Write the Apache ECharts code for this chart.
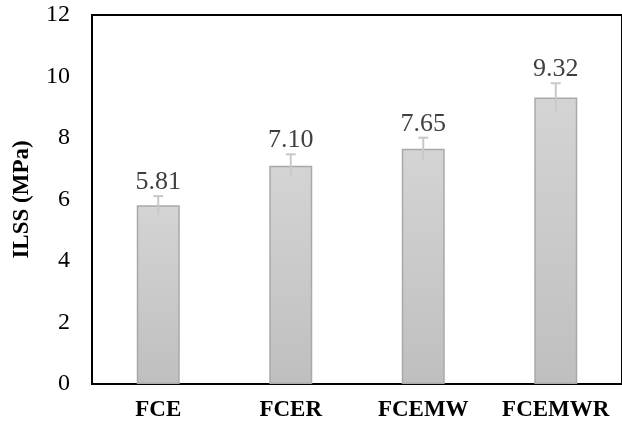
<!DOCTYPE html>
<html>
<head>
<meta charset="utf-8">
<script src="https://cdn.jsdelivr.net/npm/echarts@6/dist/echarts.min.js"></script>
<style>
  html, body { margin: 0; padding: 0; background: #fff; }
  #chart { width: 622px; height: 425px; }
</style>
</head>
<body>
<div id="chart"></div>
<script>
// data
const categories = ['FCE', 'FCER', 'FCEMW', 'FCEMWR'];
const ilss = [5.81, 7.10, 7.65, 9.32];
const ilssErr = [0.30, 0.37, 0.36, 0.46];
const yTicks = [0, 2, 4, 6, 8, 10, 12];

const chart = echarts.init(document.getElementById('chart'));

const serif = '"Liberation Serif", "Times New Roman", serif';

// error bar + value label drawn together
const errorData = ilss.map((v, i) => [i, v, ilssErr[i]]);

const renderError = (params, api) => {
    const x = api.value(0);
    const v = api.value(1);
    const e = api.value(2);
    const top = api.coord([x, v + e]);
    const bot = api.coord([x, v - e]);
    const half = 5;
    return {
        type: 'group',
        children: [
            {
                type: 'line',
                shape: { x1: top[0], y1: top[1], x2: bot[0], y2: bot[1] },
                style: { stroke: '#c8c8c8', lineWidth: 2 }
            },
            {
                type: 'line',
                shape: { x1: top[0] - half, y1: top[1], x2: top[0] + half, y2: top[1] },
                style: { stroke: '#c8c8c8', lineWidth: 2 }
            },
            {
                type: 'text',
                x: top[0],
                y: top[1] - 1,
                style: {
                    text: v.toFixed(2),
                    fill: '#404040',
                    font: '26px ' + serif,
                    align: 'center',
                    verticalAlign: 'bottom'
                }
            }
        ]
    };
};

const option = {
    backgroundColor: '#fff',
    animation: false,
    grid: {
        left: 92,
        right: -8,
        top: 15,
        bottom: 41,
        show: true,
        borderColor: '#000',
        borderWidth: 2,
        containLabel: false
    },
    xAxis: {
        type: 'category',
        data: categories,
        axisLine: { lineStyle: { color: '#000', width: 2 } },
        axisTick: { show: false },
        axisLabel: {
            interval: 0,
            hideOverlap: false,
            color: '#000',
            fontFamily: serif,
            fontWeight: 'bold',
            fontSize: 23,
            margin: 15
        }
    },
    yAxis: {
        type: 'value',
        min: 0,
        max: 12,
        interval: 2,
        name: 'ILSS (MPa)',
        nameLocation: 'middle',
        nameGap: 58,
        nameTextStyle: {
            color: '#000',
            fontFamily: serif,
            fontWeight: 'bold',
            fontSize: 23
        },
        axisLine: { show: true, lineStyle: { color: '#000', width: 2 } },
        axisTick: { show: false },
        splitLine: { show: false },
        axisLabel: {
            color: '#000',
            fontFamily: serif,
            fontSize: 24,
            margin: 22,
            formatter: (val) => yTicks.includes(val) ? String(val) : ''
        }
    },
    series: [
        {
            type: 'bar',
            data: ilss,
            barWidth: 43,
            itemStyle: {
                color: new echarts.graphic.LinearGradient(0, 0, 0, 1, [
                    { offset: 0, color: '#d4d4d4' },
                    { offset: 1, color: '#bfbfbf' }
                ]),
                borderColor: '#a9a9a9',
                borderWidth: 1.5
            },
            z: 2
        },
        {
            type: 'custom',
            data: errorData,
            renderItem: renderError,
            z: 3
        }
    ]
};

chart.setOption(option);
</script>
</body>
</html>
